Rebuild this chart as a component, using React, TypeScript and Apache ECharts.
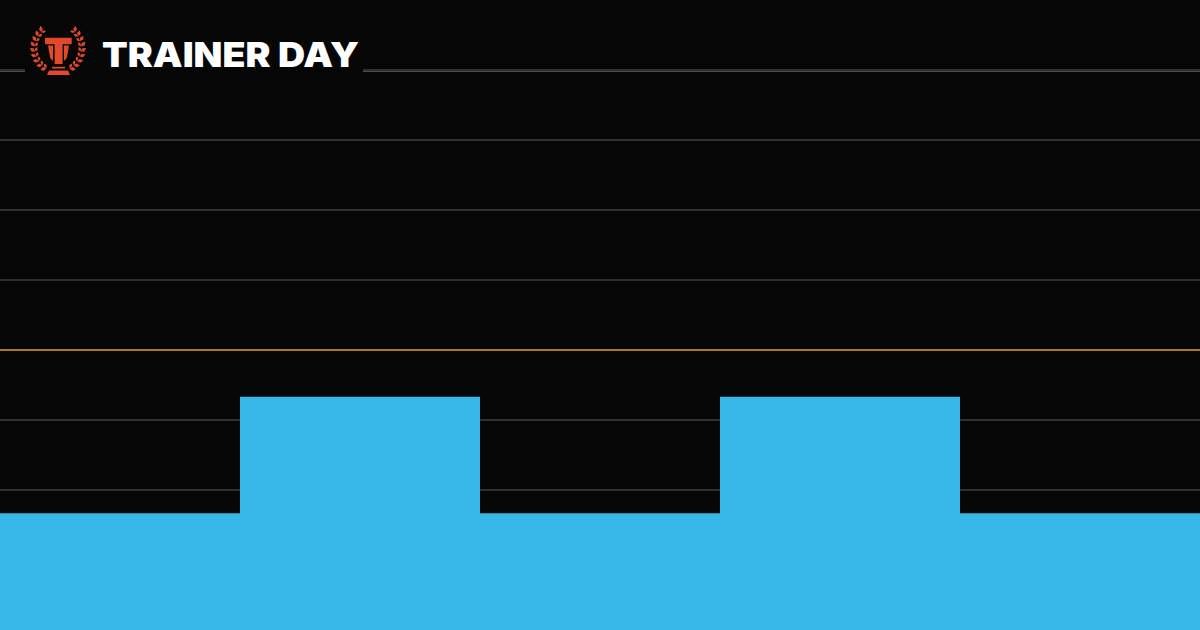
import React, { useEffect, useRef } from "react";
import * as echarts from "echarts";

const categories = ["1", "2", "3", "4", "5"];
const power = [41.7, 83.3, 41.7, 83.3, 41.7];
const ftpLine = 100;
const topLine = 199.5;
const brand = "TRAINER DAY";

const BG = "#060606";
const BLUE = "#36b7e5";
const GOLD = "#a97c20";
const GRID = "#2f2f2f";
const TOP_GRID = "#4d4d4d";
const RED = "#e2482a";
// One colour per axis tick, 0 to 225; the tick at 200 is replaced by the top line
const gridColors = [GRID, GRID, GRID, GRID, GRID, GRID, GRID, GRID, "transparent", GRID];

// Logo outline, decoration only
const leafAngles = [47, 60, 73, 86, 99, 112, 125, 138, 150];
function leaf(cx: number, cy: number, deg: number, len: number, w: number) {
  const a = (deg * Math.PI) / 180;
  const ux = Math.cos(a), uy = Math.sin(a);
  const nx = -uy, ny = ux;
  const f = (n: number) => n.toFixed(2);
  const x1 = cx + ux * len, y1 = cy + uy * len;
  const mx = cx + ux * len * 0.5, my = cy + uy * len * 0.5;
  return `M${f(cx)} ${f(cy)}L${f(mx + nx * w)} ${f(my + ny * w)}L${f(x1)} ${f(y1)}L${f(mx - nx * w)} ${f(my - ny * w)}Z`;
}
function laurel(): string {
  const out: string[] = [];
  const cx = 58, cy = 48, r = 23;
  for (const s of [-1, 1]) {
    leafAngles.forEach((deg) => {
      const phi = (deg * Math.PI) / 180;
      const px = cx + s * r * Math.sin(phi);
      const py = cy - r * Math.cos(phi);
      const up = (Math.atan2(-Math.sin(phi), -s * Math.cos(phi)) * 180) / Math.PI;
      out.push(leaf(px, py, up + s * 48, 6.5, 1.9));
      out.push(leaf(px, py, up - s * 32, 5, 1.5));
    });
  }
  return out.join("");
}
const tGlyph =
  "M45 37.7H71.7V44.3H62.6V64H54.6V44.3H45Z" +
  "M48 45.5H53V61L50.2 58Z" +
  "M64 45.5H69L66.8 58L64 61Z" +
  "M52 66.8H65V68.6H52Z" +
  "M49 70.5H68L70 75H47Z";

export default function App() {
  const ref = useRef<HTMLDivElement>(null);
  useEffect(() => {
    document.body.style.margin = "0";
    echarts.graphic.registerShape("tdMark", echarts.graphic.extendPath(tGlyph, {}) as any);
    echarts.graphic.registerShape("tdLaurel", echarts.graphic.extendPath(laurel(), {}) as any);
    const chart = echarts.init(ref.current!, null, { renderer: "svg" });
    chart.setOption({
      animation: false,
      backgroundColor: BG,
      grid: { left: 0, right: 0, top: 0, bottom: 0 },
      xAxis: {
        type: "category",
        data: categories,
        boundaryGap: true,
        axisLine: { show: false },
        axisTick: { show: false },
        axisLabel: { show: false },
        splitLine: { show: false },
      },
      yAxis: {
        type: "value",
        min: 0,
        max: 225,
        interval: 25,
        axisLine: { show: false },
        axisTick: { show: false },
        axisLabel: { show: false },
        splitLine: { show: true, showMinLine: false, showMaxLine: false, lineStyle: { color: gridColors, width: 2 } },
      },
      series: [
        {
          type: "bar",
          data: power,
          barWidth: "100%",
          barGap: 0,
          barCategoryGap: 0,
          itemStyle: { color: BLUE },
          markLine: {
            silent: true,
            symbol: "none",
            label: { show: false },
            data: [
              { yAxis: ftpLine, lineStyle: { color: GOLD, width: 2, type: "solid" } },
              { yAxis: topLine, lineStyle: { color: TOP_GRID, width: 1, type: "solid" } },
            ],
          },
        },
      ],
      graphic: [
        { type: "rect", x: 25, y: 60, shape: { width: 338, height: 20 }, style: { fill: BG }, z: 10 },
        { type: "tdLaurel", x: 0, y: 0, style: { fill: RED }, z: 11 },
        { type: "tdMark", x: 0, y: 0, style: { fill: RED }, z: 11 },
        {
          type: "text",
          x: 102,
          y: 54.5,
          z: 11,
          scaleX: 1.104,
          style: {
            text: brand,
            fill: "#ffffff",
            font: "900 34px Inter",
            textVerticalAlign: "middle",
            textAlign: "left",
          },
        },
      ],
    });
    return () => chart.dispose();
  }, []);
  return <div ref={ref} style={{ width: 1200, height: 630 }} />;
}
